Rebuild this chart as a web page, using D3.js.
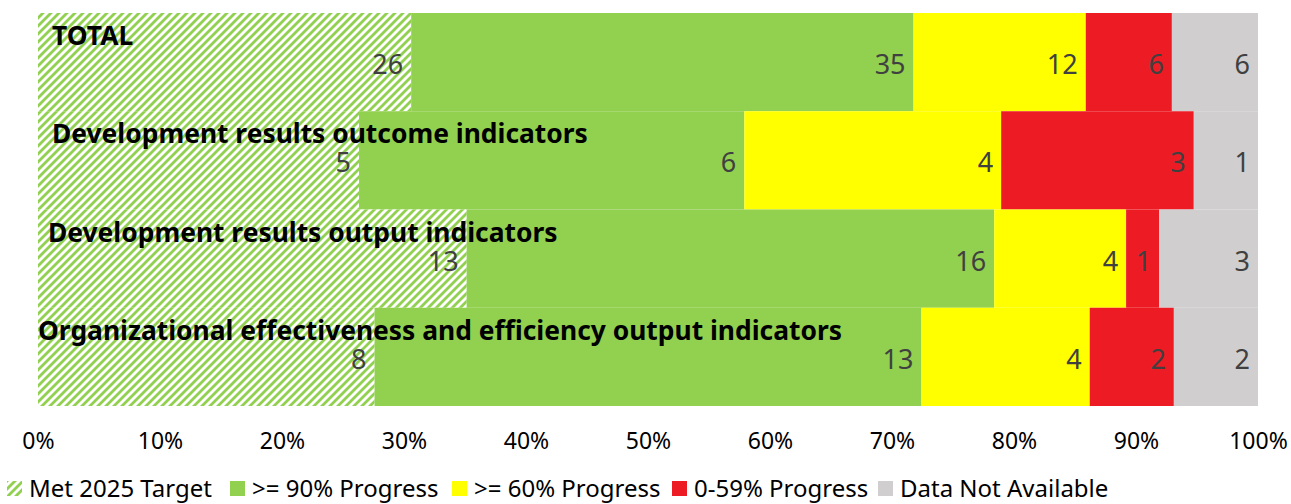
<!DOCTYPE html>
<html>
<head>
<meta charset="utf-8">
<script src="https://cdn.jsdelivr.net/npm/d3@7"></script>
<style>
  body { margin: 0; background: #fff; }
  text { font-family: "Noto Sans", sans-serif; }
</style>
</head>
<body>
<svg id="chart" width="1291" height="504"></svg>
<script>
// categories, top to bottom
const categories = [
  "TOTAL",
  "Development results outcome indicators",
  "Development results output indicators",
  "Organizational effectiveness and efficiency output indicators"
];
const seriesNames = ["Met 2025 Target", ">= 90% Progress", ">= 60% Progress", "0-59% Progress", "Data Not Available"];
const metTarget   = [26, 5, 13, 8];
const progress90  = [35, 6, 16, 13];
const progress60  = [12, 4, 4, 4];
const progress0   = [6, 3, 1, 2];
const notAvail    = [6, 1, 3, 2];
const tickValues  = [0, 0.1, 0.2, 0.3, 0.4, 0.5, 0.6, 0.7, 0.8, 0.9, 1];

const colors = ["url(#hatch)", "#92D050", "#FFFF00", "#ED1C24", "#D0CECE"];

const svg = d3.select("#chart");
const margin = {left: 38, right: 33, top: 13, bottom: 98};
const W = 1291, H = 504;

// hatch pattern for the met target series (wide upward diagonal)
const defs = svg.append("defs");
const pat = defs.append("pattern")
  .attr("id", "hatch")
  .attr("patternUnits", "userSpaceOnUse")
  .attr("width", 8).attr("height", 8);
pat.append("rect").attr("width", 8).attr("height", 8).attr("fill", "#fff");
pat.append("path")
  .attr("d", "M-2,2 l4,-4 M0,8 l8,-8 M6,10 l4,-4")
  .attr("stroke", "#92D050").attr("stroke-width", 2.8);

const rows = categories.map((c, i) => {
  const vals = [metTarget[i], progress90[i], progress60[i], progress0[i], notAvail[i]];
  const total = d3.sum(vals);
  let acc = 0;
  const segs = vals.map((v, k) => {
    const s = {cat: c, k: k, v: v, x0: acc / total, x1: (acc + v) / total};
    acc += v;
    return s;
  });
  return {cat: c, segs: segs};
});

const x = d3.scaleLinear().domain([0, 1]).range([margin.left, W - margin.right]);
const y = d3.scaleBand().domain(categories).range([margin.top, H - margin.bottom]).padding(0);

const g = svg.append("g");
const row = g.selectAll("g.row").data(rows).enter().append("g").attr("class", "row");

row.selectAll("rect")
  .data(d => d.segs)
  .enter().append("rect")
  .attr("x", d => x(d.x0))
  .attr("y", d => y(d.cat))
  .attr("width", d => x(d.x1) - x(d.x0))
  .attr("height", y.bandwidth())
  .attr("fill", d => colors[d.k]);

// value labels, right aligned inside each segment
row.selectAll("text.val")
  .data(d => d.segs)
  .enter().append("text")
  .attr("class", "val")
  .attr("x", d => x(d.x1) - 8)
  .attr("y", d => y(d.cat) + 61)
  .attr("text-anchor", "end")
  .attr("fill", "#404040")
  .style("font-size", "27px")
  .text(d => d.v);

// category labels drawn over the bars
const labelX = [52, 52, 48, 38];
g.selectAll("text.cat")
  .data(categories)
  .enter().append("text")
  .attr("class", "cat")
  .attr("x", (d, i) => labelX[i])
  .attr("y", d => y(d) + 32)
  .style("font-size", "26.4px")
  .style("font-weight", "bold")
  .attr("fill", "#000")
  .text(d => d);

// x axis
const axis = d3.axisBottom(x).tickValues(tickValues).tickFormat(d3.format(".0%")).tickSize(0);
const ax = svg.append("g")
  .attr("transform", `translate(0,${H - margin.bottom})`)
  .call(axis);
ax.select(".domain").remove();
ax.selectAll("text")
  .attr("dy", 0).attr("y", 43)
  .attr("fill", "#000")
  .style("font-family", "Noto Sans, sans-serif")
  .style("font-size", "23px");

// legend
const legX = [7, 230, 452, 672, 878];
const leg = svg.append("g").selectAll("g").data(seriesNames).enter().append("g")
  .attr("transform", (d, i) => `translate(${legX[i]},481)`);
leg.append("rect").attr("width", 15).attr("height", 15)
  .attr("fill", (d, i) => colors[i]);
leg.append("text").attr("x", 22).attr("y", 16)
  .style("font-size", "24px").attr("fill", "#000")
  .text(d => d);
</script>
</body>
</html>
